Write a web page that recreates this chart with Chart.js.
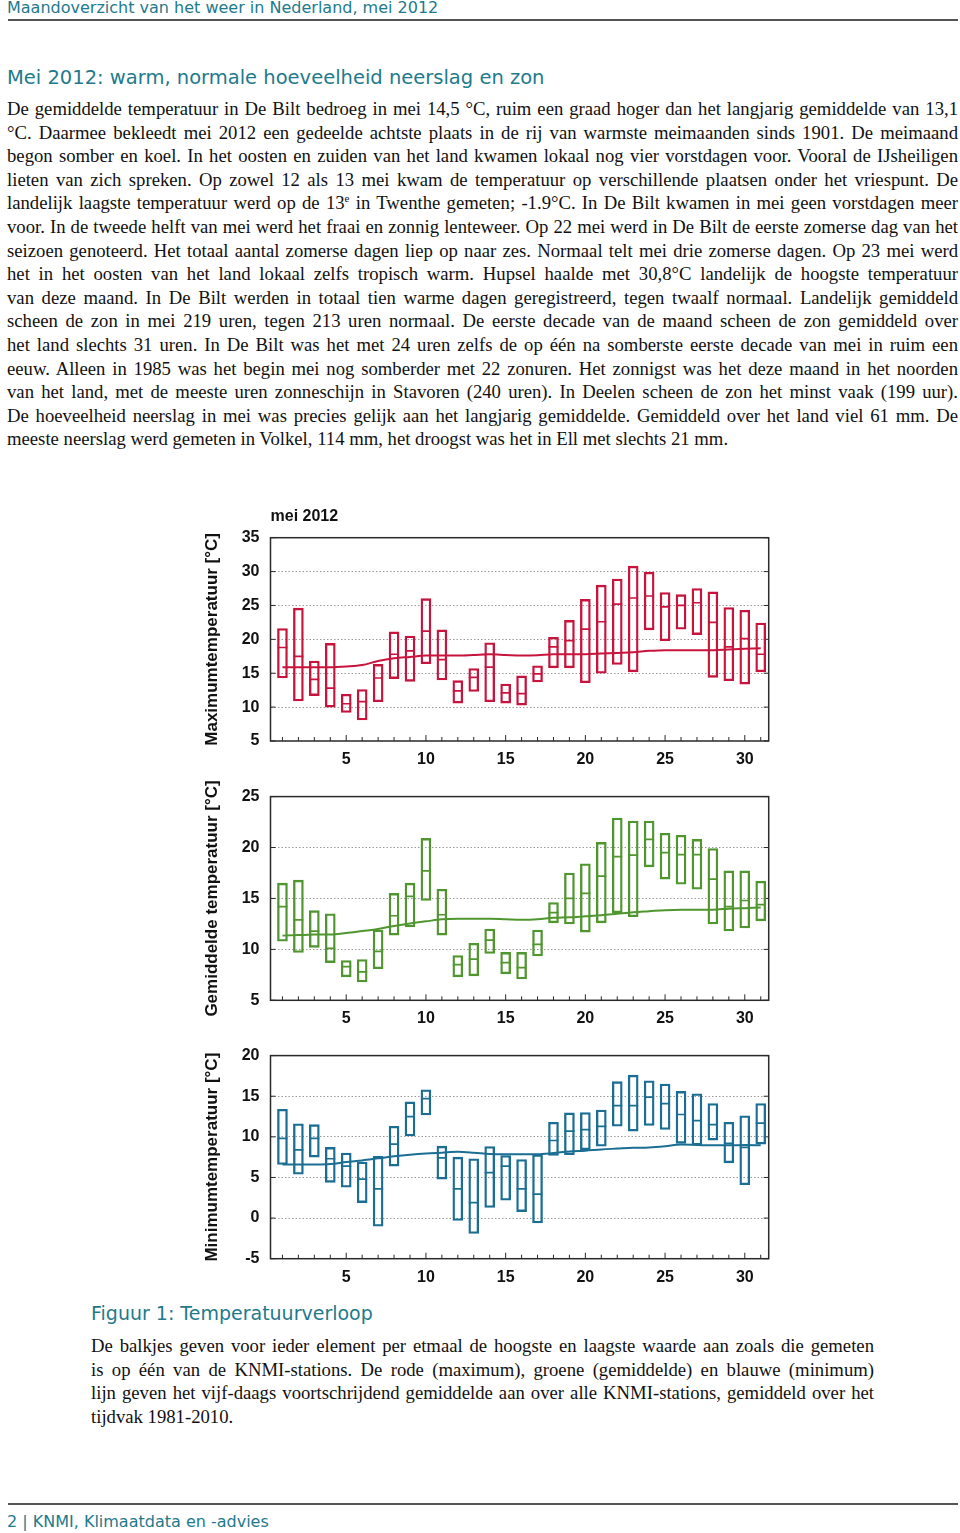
<!DOCTYPE html>
<html>
<head>
<meta charset="utf-8">
<script src="https://cdn.jsdelivr.net/npm/chart.js@4"></script>
<style>
  body { margin: 0; background: #fff; width: 960px; height: 1533px; position: relative; overflow: hidden; }
  .hdr { position: absolute; font-family: "DejaVu Sans", sans-serif; color: #1e7a8c; white-space: nowrap; }
  .rule { position: absolute; left: 8px; width: 950px; height: 2px; background: #555; }
  .txt { position: absolute; font-family: "Liberation Serif", serif; font-size: 18.7px; line-height: 23.6px; color: #111; }
  .txt div { white-space: nowrap; text-align: justify; text-align-last: justify; }
  .txt div.last { text-align-last: left; }
  sup { font-size: 11px; line-height: 0; }
  canvas { position: absolute; left: 190px; }
</style>
</head>
<body>
<div class="hdr" style="left:7px; top:-2px; font-size:16px;">Maandoverzicht van het weer in Nederland, mei 2012</div>
<div class="rule" style="top:19px;"></div>
<div class="hdr" style="left:7px; top:66px; font-size:19.5px;">Mei 2012: warm, normale hoeveelheid neerslag en zon</div>

<div class="txt" style="left:7px; top:97px; width:951px;">
  <div>De gemiddelde temperatuur in De Bilt bedroeg in mei 14,5 °C, ruim een graad hoger dan het langjarig gemiddelde van 13,1</div>
  <div>°C. Daarmee bekleedt mei 2012 een gedeelde achtste plaats in de rij van warmste meimaanden sinds 1901. De meimaand</div>
  <div>begon somber en koel. In het oosten en zuiden van het land kwamen lokaal nog vier vorstdagen voor. Vooral de IJsheiligen</div>
  <div>lieten van zich spreken. Op zowel 12 als 13 mei kwam de temperatuur op verschillende plaatsen onder het vriespunt. De</div>
  <div>landelijk laagste temperatuur werd op de 13<sup>e</sup> in Twenthe gemeten; -1.9°C. In De Bilt kwamen in mei geen vorstdagen meer</div>
  <div>voor. In de tweede helft van mei werd het fraai en zonnig lenteweer. Op 22 mei werd in De Bilt de eerste zomerse dag van het</div>
  <div>seizoen genoteerd. Het totaal aantal zomerse dagen liep op naar zes. Normaal telt mei drie zomerse dagen. Op 23 mei werd</div>
  <div>het in het oosten van het land lokaal zelfs tropisch warm. Hupsel haalde met 30,8°C landelijk de hoogste temperatuur</div>
  <div>van deze maand. In De Bilt werden in totaal tien warme dagen geregistreerd, tegen twaalf normaal. Landelijk gemiddeld</div>
  <div>scheen de zon in mei 219 uren, tegen 213 uren normaal. De eerste decade van de maand scheen de zon gemiddeld over</div>
  <div>het land slechts 31 uren. In De Bilt was het met 24 uren zelfs de op één na somberste eerste decade van mei in ruim een</div>
  <div>eeuw. Alleen in 1985 was het begin mei nog somberder met 22 zonuren. Het zonnigst was het deze maand in het noorden</div>
  <div>van het land, met de meeste uren zonneschijn in Stavoren (240 uren). In Deelen scheen de zon het minst vaak (199 uur).</div>
  <div>De hoeveelheid neerslag in mei was precies gelijk aan het langjarig gemiddelde. Gemiddeld over het land viel 61 mm. De</div>
  <div class="last">meeste neerslag werd gemeten in Volkel, 114 mm, het droogst was het in Ell met slechts 21 mm.</div>
</div>

<canvas id="cMax" width="590" height="270" style="top:505px;"></canvas>
<canvas id="cMean" width="590" height="259" style="top:776px;"></canvas>
<canvas id="cMin" width="590" height="258" style="top:1035px;"></canvas>

<div class="hdr" style="left:91px; top:1302px; font-size:19px;">Figuur 1: Temperatuurverloop</div>
<div class="txt" style="left:91px; top:1334px; width:783px;">
  <div>De balkjes geven voor ieder element per etmaal de hoogste en laagste waarde aan zoals die gemeten</div>
  <div>is op één van de KNMI-stations. De rode (maximum), groene (gemiddelde) en blauwe (minimum)</div>
  <div>lijn geven het vijf-daags voortschrijdend gemiddelde aan over alle KNMI-stations, gemiddeld over het</div>
  <div class="last">tijdvak 1981-2010.</div>
</div>

<div class="rule" style="top:1503px;"></div>
<div class="hdr" style="left:7px; top:1512px; font-size:16px;">2 | KNMI, Klimaatdata en -advies</div>

<script>
const days = [1, 2, 3, 4, 5, 6, 7, 8, 9, 10, 11, 12, 13, 14, 15, 16, 17, 18, 19, 20, 21, 22, 23, 24, 25, 26, 27, 28, 29, 30, 31];

// maximumtemperatuur
const maxHigh = [21.6, 24.6, 16.8, 19.4, 11.9, 12.6, 16.3, 21.1, 20.5, 26.0, 21.4, 13.9, 15.7, 19.5, 13.4, 14.6, 16.1, 20.3, 22.8, 25.9, 28.0, 28.9, 30.8, 29.9, 26.9, 26.6, 27.5, 27.0, 24.7, 24.3, 22.4];
const maxLow = [14.3, 10.9, 11.7, 10.0, 9.2, 8.1, 10.8, 14.2, 13.8, 16.4, 14.0, 10.6, 12.3, 10.8, 10.6, 10.3, 13.7, 15.8, 15.8, 13.6, 15.0, 16.3, 15.2, 21.4, 19.8, 21.5, 20.7, 14.4, 13.9, 13.4, 15.2];
const maxBilt = [18.8, 17.5, 14.1, 12.8, 10.5, 10.8, 14.3, 17.8, 18.3, 21.2, 17.0, 12.4, 14.4, 15.9, 12.1, 12.0, 14.9, 18.9, 19.8, 21.5, 22.6, 25.2, 26.1, 26.4, 24.8, 25.0, 25.4, 22.5, 18.9, 20.1, 17.8];
const maxNorm = [15.9, 15.9, 15.9, 15.9, 16.0, 16.2, 16.8, 17.2, 17.4, 17.6, 17.6, 17.6, 17.7, 17.8, 17.7, 17.6, 17.65, 17.8, 17.8, 17.8, 17.9, 18.0, 18.1, 18.3, 18.4, 18.4, 18.4, 18.4, 18.5, 18.6, 18.7];

// gemiddelde temperatuur
const meanHigh = [16.5, 16.8, 13.8, 13.5, 8.9, 9.0, 11.9, 15.5, 16.5, 20.9, 15.9, 9.4, 10.6, 12.0, 9.7, 9.7, 11.9, 14.6, 17.5, 18.4, 20.5, 22.9, 22.6, 22.6, 21.4, 21.2, 20.8, 19.9, 17.7, 17.7, 16.7];
const meanLow = [10.8, 9.7, 10.2, 8.7, 7.3, 6.8, 8.1, 11.4, 12.2, 14.8, 11.4, 7.3, 7.4, 9.6, 7.6, 7.1, 9.35, 12.6, 12.5, 11.7, 12.6, 13.6, 13.2, 18.1, 16.9, 16.4, 15.9, 12.5, 11.8, 12.1, 12.8];
const meanBilt = [14.2, 12.9, 11.8, 10.1, 8.3, 7.8, 9.8, 13.3, 15.2, 17.7, 13.4, 8.5, 9.05, 10.9, 8.7, 8.2, 10.5, 13.6, 15.0, 15.5, 17.2, 19.1, 19.25, 20.8, 19.5, 19.3, 19.3, 16.9, 14.2, 14.8, 14.4];
const meanNorm = [11.35, 11.4, 11.45, 11.45, 11.6, 11.8, 12.0, 12.3, 12.55, 12.75, 12.95, 13.0, 13.0, 13.0, 12.95, 12.9, 12.95, 13.1, 13.15, 13.25, 13.35, 13.5, 13.65, 13.75, 13.85, 13.9, 13.9, 13.9, 14.0, 14.05, 14.1];

// minimumtemperatuur
const minHigh = [13.4, 11.6, 11.5, 8.7, 8.0, 6.9, 7.6, 11.3, 14.3, 15.8, 8.85, 7.5, 7.3, 8.8, 7.7, 7.2, 7.8, 11.8, 12.95, 13.0, 13.3, 16.8, 17.6, 16.9, 16.5, 15.6, 15.3, 14.1, 11.8, 12.6, 14.1];
const minLow = [6.6, 5.4, 7.5, 4.4, 3.8, 1.9, -1.0, 6.4, 10.1, 12.7, 4.8, -0.3, -1.9, 1.3, 2.2, 0.8, -0.6, 7.7, 7.8, 8.4, 8.85, 11.3, 10.7, 11.4, 10.9, 9.2, 9.0, 9.6, 6.8, 4.1, 9.1];
const minBilt = [9.8, 8.4, 9.8, 7.3, 6.4, 4.8, 3.6, 9.1, 12.5, 14.7, 7.4, 3.6, 1.9, 5.6, 6.4, 3.6, 2.95, 9.55, 10.7, 10.9, 11.3, 13.85, 13.85, 14.9, 14.1, 12.75, 12.0, 11.5, 9.2, 8.7, 11.7];
const minNorm = [6.6, 6.6, 6.6, 6.65, 6.9, 7.1, 7.35, 7.6, 7.8, 7.95, 8.05, 8.15, 8.05, 7.9, 7.85, 7.85, 7.85, 8.0, 8.2, 8.3, 8.45, 8.55, 8.65, 8.7, 8.85, 9.05, 9.0, 8.95, 8.95, 9.0, 8.95];

const FONT = "'Liberation Sans', Arial, sans-serif";

// frame round the plot area plus small inward ticks, like the gnuplot original
const frameTicks = {
    id: 'frameTicks',
    beforeDatasetsDraw(chart) {
        const { ctx, chartArea: a, scales: { x, y } } = chart;
        ctx.save();
        ctx.strokeStyle = '#2a2a2a';
        ctx.lineWidth = 1.5;
        ctx.strokeRect(a.left, a.top, a.right - a.left, a.bottom - a.top);
        ctx.lineWidth = 1;
        ctx.beginPath();
        days.forEach(d => {
            const px = x.getPixelForValue(d);
            const len = d % 5 === 0 ? 6 : 4;
            ctx.moveTo(px, a.bottom);
            ctx.lineTo(px, a.bottom - len);
        });
        y.ticks.forEach(t => {
            const py = y.getPixelForValue(t.value);
            ctx.moveTo(a.left, py);
            ctx.lineTo(a.left + 5, py);
            ctx.moveTo(a.right, py);
            ctx.lineTo(a.right - 5, py);
        });
        ctx.stroke();
        ctx.restore();
    }
};

function makeChart(id, opt) {
    const color = opt.color;
    const data = {
        datasets: [
            {
                type: 'bar',
                data: days.map((d, i) => ({ x: d, y: [opt.low[i], opt.high[i]] })),
                backgroundColor: 'rgba(0,0,0,0)',
                borderColor: color,
                borderWidth: 1.7,
                borderSkipped: false,
                barThickness: 10,
                grouped: false,
            },
            {
                type: 'line',
                data: days.map((d, i) => ({ x: d, y: opt.bilt[i] })),
                showLine: false,
                pointStyle: 'line',
                pointRadius: 5,
                pointBorderWidth: 1.7,
                borderColor: color,
            },
            {
                type: 'line',
                data: days.map((d, i) => ({ x: d, y: opt.norm[i] })),
                borderColor: color,
                borderWidth: 2,
                pointRadius: 0,
                cubicInterpolationMode: 'monotone',
                fill: false,
            },
        ],
    };

    const config = {
        type: 'bar',
        data: data,
        plugins: [frameTicks],
        options: {
            responsive: false,
            animation: false,
            events: [],
            layout: { padding: { left: 0, right: 11.3, top: opt.padTop, bottom: opt.padBottom } },
            plugins: {
                legend: { display: false },
                tooltip: { enabled: false },
                title: {
                    display: !!opt.title,
                    text: opt.title || '',
                    align: 'start',
                    fullSize: false,
                    color: '#111',
                    font: { family: FONT, size: 16, weight: 'bold' },
                    padding: { top: 2.4, bottom: 11.1 },
                },
            },
            scales: {
                x: {
                    type: 'linear',
                    min: 0.25,
                    max: 31.5,
                    offset: false,
                    grid: { display: false, drawTicks: false },
                    border: { display: false },
                    ticks: {
                        stepSize: 5,
                        includeBounds: false,
                        padding: 9,
                        color: '#111',
                        font: { family: FONT, size: 16, weight: 'bold' },
                    },
                    afterFit: s => { s.height = 34; },
                },
                y: {
                    min: opt.yMin,
                    max: opt.yMax,
                    grid: {
                        drawTicks: false,
                        lineWidth: 1,
                        color: c => (c.tick.value === opt.yMin || c.tick.value === opt.yMax) ? 'rgba(0,0,0,0)' : '#9a9a9a',
                    },
                    border: { display: false, dash: [1.5, 2] },
                    ticks: {
                        stepSize: 5,
                        padding: 11,
                        color: '#111',
                        font: { family: FONT, size: 16, weight: 'bold' },
                    },
                    title: {
                        display: true,
                        text: opt.yTitle,
                        color: '#111',
                        font: { family: FONT, size: 17, weight: 'bold' },
                        padding: { top: 12, bottom: 0 },
                    },
                    afterFit: s => { s.width = 80.5; },
                },
            },
        },
    };

    return new Chart(document.getElementById(id), config);
}

makeChart('cMax', {
    color: '#c8143c', high: maxHigh, low: maxLow, bilt: maxBilt, norm: maxNorm,
    yMin: 5, yMax: 35, yTitle: 'Maximumtemperatuur [°C]', title: 'mei 2012',
    padTop: 0, padBottom: 0,
});
makeChart('cMean', {
    color: '#4f962f', high: meanHigh, low: meanLow, bilt: meanBilt, norm: meanNorm,
    yMin: 5, yMax: 25, yTitle: 'Gemiddelde temperatuur [°C]',
    padTop: 20.3, padBottom: 0.7,
});
makeChart('cMin', {
    color: '#1a6e93', high: minHigh, low: minLow, bilt: minBilt, norm: minNorm,
    yMin: -5, yMax: 20, yTitle: 'Minimumtemperatuur [°C]',
    padTop: 20.3, padBottom: 0.3,
});
</script>
</body>
</html>
